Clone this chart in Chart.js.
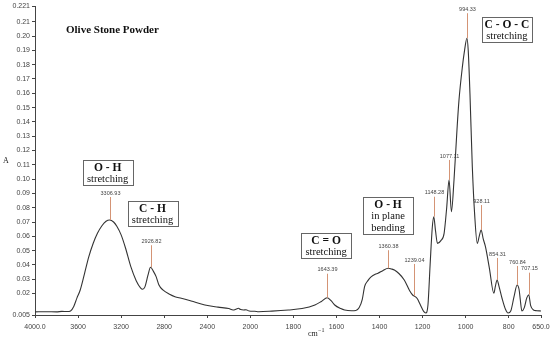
<!DOCTYPE html>
<html>
<head>
<meta charset="utf-8">
<script src="https://cdn.jsdelivr.net/npm/chart.js@4.4.1/dist/chart.umd.min.js"></script>
<style>
  html, body { margin: 0; padding: 0; background: #fff; }
  #wrap { width: 550px; height: 340px; }
</style>
</head>
<body>
<div id="wrap"><canvas id="ftir"></canvas></div>
<script>
// spectrum (wavenumber cm-1 -> absorbance)
const wavenumbers = [
  4000, 3900, 3800, 3750, 3700, 3670, 3640, 3610, 3580, 3540, 3500, 3460, 3420, 3380, 3340, 3307,
  3270, 3240, 3200, 3160, 3110, 3060, 3020, 3000, 2980, 2950, 2927, 2900, 2875, 2850, 2812, 2750,
  2700, 2641, 2550, 2422, 2300, 2200, 2160, 2130, 2110, 2090, 2062, 2040, 2010, 1980, 1961, 1900,
  1823, 1760, 1700, 1670, 1643, 1625, 1608, 1580, 1562, 1530, 1510, 1495, 1480, 1469, 1454, 1438,
  1420, 1407, 1385, 1360, 1345, 1331, 1310, 1285, 1260, 1245, 1239, 1225, 1210, 1195, 1185, 1175,
  1165, 1155, 1148, 1140, 1131, 1115, 1100, 1088, 1077, 1066, 1054, 1040, 1031, 1015, 1005, 994,
  988, 980, 969, 958, 946, 937, 928, 918, 908, 890, 869, 862, 854, 845, 831, 815,
  803, 790, 775, 761, 752, 746, 739, 728, 716, 707, 698, 685, 670, 650
];
const absorbance = [
  0.0072, 0.0073, 0.0072, 0.0075, 0.0074, 0.0078, 0.0110, 0.0170, 0.0225, 0.0340, 0.0458, 0.0550, 0.0621, 0.0672, 0.0705, 0.0714,
  0.0700, 0.0670, 0.0610, 0.0520, 0.0388, 0.0290, 0.0240, 0.0230, 0.0245, 0.0330, 0.0384, 0.0355, 0.0318, 0.0262, 0.0225, 0.0195,
  0.0178, 0.0167, 0.0148, 0.0120, 0.0105, 0.0095, 0.0085, 0.0092, 0.0097, 0.0088, 0.0085, 0.0087, 0.0078, 0.0076, 0.0073, 0.0077,
  0.0085, 0.0095, 0.0120, 0.0145, 0.0171, 0.0150, 0.0120, 0.0095, 0.0085, 0.0080, 0.0082, 0.0100, 0.0160, 0.0250, 0.0290, 0.0318,
  0.0335, 0.0342, 0.0360, 0.0377, 0.0372, 0.0365, 0.0340, 0.0295, 0.0220, 0.0188, 0.0183, 0.0165, 0.0120, 0.0075, 0.0064, 0.0120,
  0.0400, 0.0660, 0.0737, 0.0640, 0.0551, 0.0570, 0.0621, 0.0800, 0.0994, 0.0772, 0.0994, 0.1350, 0.1550, 0.1786, 0.1900, 0.1985,
  0.1900, 0.1600, 0.1087, 0.0750, 0.0551, 0.0600, 0.0644, 0.0580, 0.0528, 0.0380, 0.0202, 0.0250, 0.0295, 0.0250, 0.0167, 0.0090,
  0.0064, 0.0080, 0.0180, 0.0260, 0.0230, 0.0155, 0.0078, 0.0100, 0.0170, 0.0192, 0.0115, 0.0085, 0.0080, 0.0078
];

// labelled peaks
const peakLabels = ['3306.93', '2926.82', '1643.39', '1360.38', '1239.04', '1148.28', '1077.11', '994.33', '928.11', '854.31', '760.84', '707.15'];
const peakHeights = [0.0714, 0.0384, 0.0171, 0.0377, 0.0183, 0.0737, 0.0994, 0.1985, 0.0644, 0.0295, 0.0260, 0.0192];

// band assignments
const bandTitles = ['O - H', 'C - H', 'C = O', 'O - H', 'C - O - C'];
const bandTexts = [['stretching'], ['stretching'], ['stretching'], ['in plane', 'bending'], ['stretching']];
const bandPeaks = [3306.93, 2926.82, 1643.39, 1360.38, 994.33];

const xTickLabels = [4000, 3600, 3200, 2800, 2400, 2000, 1800, 1600, 1400, 1200, 1000, 800, 650];
const yTickValues = [0.005, 0.02, 0.03, 0.04, 0.05, 0.06, 0.07, 0.08, 0.09, 0.10, 0.11, 0.12, 0.13, 0.14,
  0.15, 0.16, 0.17, 0.18, 0.19, 0.20, 0.21, 0.221];

// x axis is compressed above 2000 cm-1 (half scale), like the instrument plot
function toU(wn) {
  return wn >= 2000 ? 4000 - wn : 2000 + 2 * (2000 - wn);
}
function fromU(u) {
  return u <= 2000 ? 4000 - u : 2000 - (u - 2000) / 2;
}

const points = wavenumbers.map((wn, i) => ({ x: toU(wn), y: absorbance[i] }));

// per-annotation layout (pixels)
const lineLen = [23, 22, 24, 18, 32, 20, 20, 25, 25, 22, 19, 22];
const boxLayout = [
  { dx: -2, top: 160 },
  { dx: 2, top: 201 },
  { dx: -1, top: 233 },
  { dx: 0, top: 197 },
  { dx: 40, top: 17 }
];

const annotate = {
  id: 'annotate',
  afterDatasetsDraw(chart) {
    const { ctx, scales: { x, y }, chartArea } = chart;
    ctx.save();

    // peak markers
    peakLabels.forEach((lab, i) => {
      const px = Math.round(x.getPixelForValue(toU(parseFloat(lab)))) + 0.5;
      const py = y.getPixelForValue(peakHeights[i]);
      ctx.strokeStyle = '#d49475';
      ctx.lineWidth = 1;
      ctx.beginPath();
      ctx.moveTo(px, py);
      ctx.lineTo(px, py - lineLen[i]);
      ctx.stroke();
      ctx.fillStyle = '#444';
      ctx.font = '5.5px "Liberation Sans", Arial, sans-serif';
      ctx.textAlign = 'center';
      ctx.textBaseline = 'bottom';
      ctx.fillText(lab, px, py - lineLen[i] - 1);
    });

    // assignment boxes
    bandTitles.forEach((t, i) => {
      const cx = x.getPixelForValue(toU(bandPeaks[i])) + boxLayout[i].dx;
      const lines = bandTexts[i];
      const w = 50, h = 13 + lines.length * 12;
      const left = Math.round(cx - w / 2) + 0.5, top = boxLayout[i].top + 0.5;
      ctx.fillStyle = '#fff';
      ctx.fillRect(left, top, w, h);
      ctx.strokeStyle = '#666';
      ctx.lineWidth = 1;
      ctx.strokeRect(left, top, w, h);
      ctx.fillStyle = '#111';
      ctx.textAlign = 'center';
      ctx.textBaseline = 'middle';
      ctx.font = 'bold 11.5px "Liberation Serif", "Times New Roman", serif';
      ctx.fillText(t, cx, top + 7.5);
      ctx.font = '10.5px "Liberation Serif", "Times New Roman", serif';
      lines.forEach((s, k) => ctx.fillText(s, cx, top + 19 + k * 12));
    });

    // title and axis names
    ctx.fillStyle = '#111';
    ctx.textAlign = 'left';
    ctx.textBaseline = 'middle';
    ctx.font = 'bold 11px "Liberation Serif", "Times New Roman", serif';
    ctx.fillText('Olive Stone Powder', 66, 30);

    ctx.font = '8px "Liberation Serif", "Times New Roman", serif';
    ctx.fillStyle = '#222';
    ctx.fillText('A', 3, (chartArea.top + chartArea.bottom) / 2);

    ctx.textAlign = 'left';
    ctx.fillText('cm', 308, 334);
    ctx.font = '6px "Liberation Serif", "Times New Roman", serif';
    ctx.fillText('\u22121', 318, 330);
    ctx.restore();
  }
};

new Chart(document.getElementById('ftir'), {
  type: 'line',
  data: {
    datasets: [{
      data: points,
      borderColor: '#333',
      borderWidth: 1.1,
      pointRadius: 0,
      fill: false,
      cubicInterpolationMode: 'monotone'
    }]
  },
  options: {
    responsive: true,
    maintainAspectRatio: false,
    animation: false,
    layout: { padding: { top: 6, right: 9, left: 0, bottom: 0 } },
    plugins: {
      legend: { display: false },
      tooltip: { enabled: false }
    },
    scales: {
      x: {
        type: 'linear',
        min: 0,
        max: toU(650),
        afterBuildTicks: (scale) => {
          scale.ticks = xTickLabels.map((wn) => ({ value: toU(wn) }));
        },
        afterFit: (scale) => {
          scale.height = 25;
          scale.paddingLeft = 0;
          scale.paddingRight = 0;
        },
        grid: { drawOnChartArea: false, drawTicks: true, tickLength: 3, color: '#444' },
        border: { display: true, color: '#444' },
        ticks: {
          autoSkip: false,
          maxRotation: 0,
          padding: 5,
          color: '#444',
          font: { family: '"Liberation Sans", Arial, sans-serif', size: 7 },
          callback: (v) => {
            const wn = Math.round(fromU(v));
            return (wn === 4000 || wn === 650) ? wn.toFixed(1) : String(wn);
          }
        }
      },
      y: {
        type: 'linear',
        min: 0.005,
        max: 0.221,
        afterBuildTicks: (scale) => {
          scale.ticks = yTickValues.map((v) => ({ value: v }));
        },
        afterFit: (scale) => {
          scale.width = 35;
          scale.paddingTop = 0;
          scale.paddingBottom = 0;
        },
        grid: { drawOnChartArea: false, drawTicks: true, tickLength: 3, color: '#444' },
        border: { display: true, color: '#444' },
        ticks: {
          autoSkip: false,
          padding: 2,
          color: '#444',
          font: { family: '"Liberation Sans", Arial, sans-serif', size: 7 },
          callback: (v) => (v === 0.005 || v === 0.221) ? v.toFixed(3) : v.toFixed(2)
        }
      }
    }
  },
  plugins: [annotate]
});
</script>
</body>
</html>
